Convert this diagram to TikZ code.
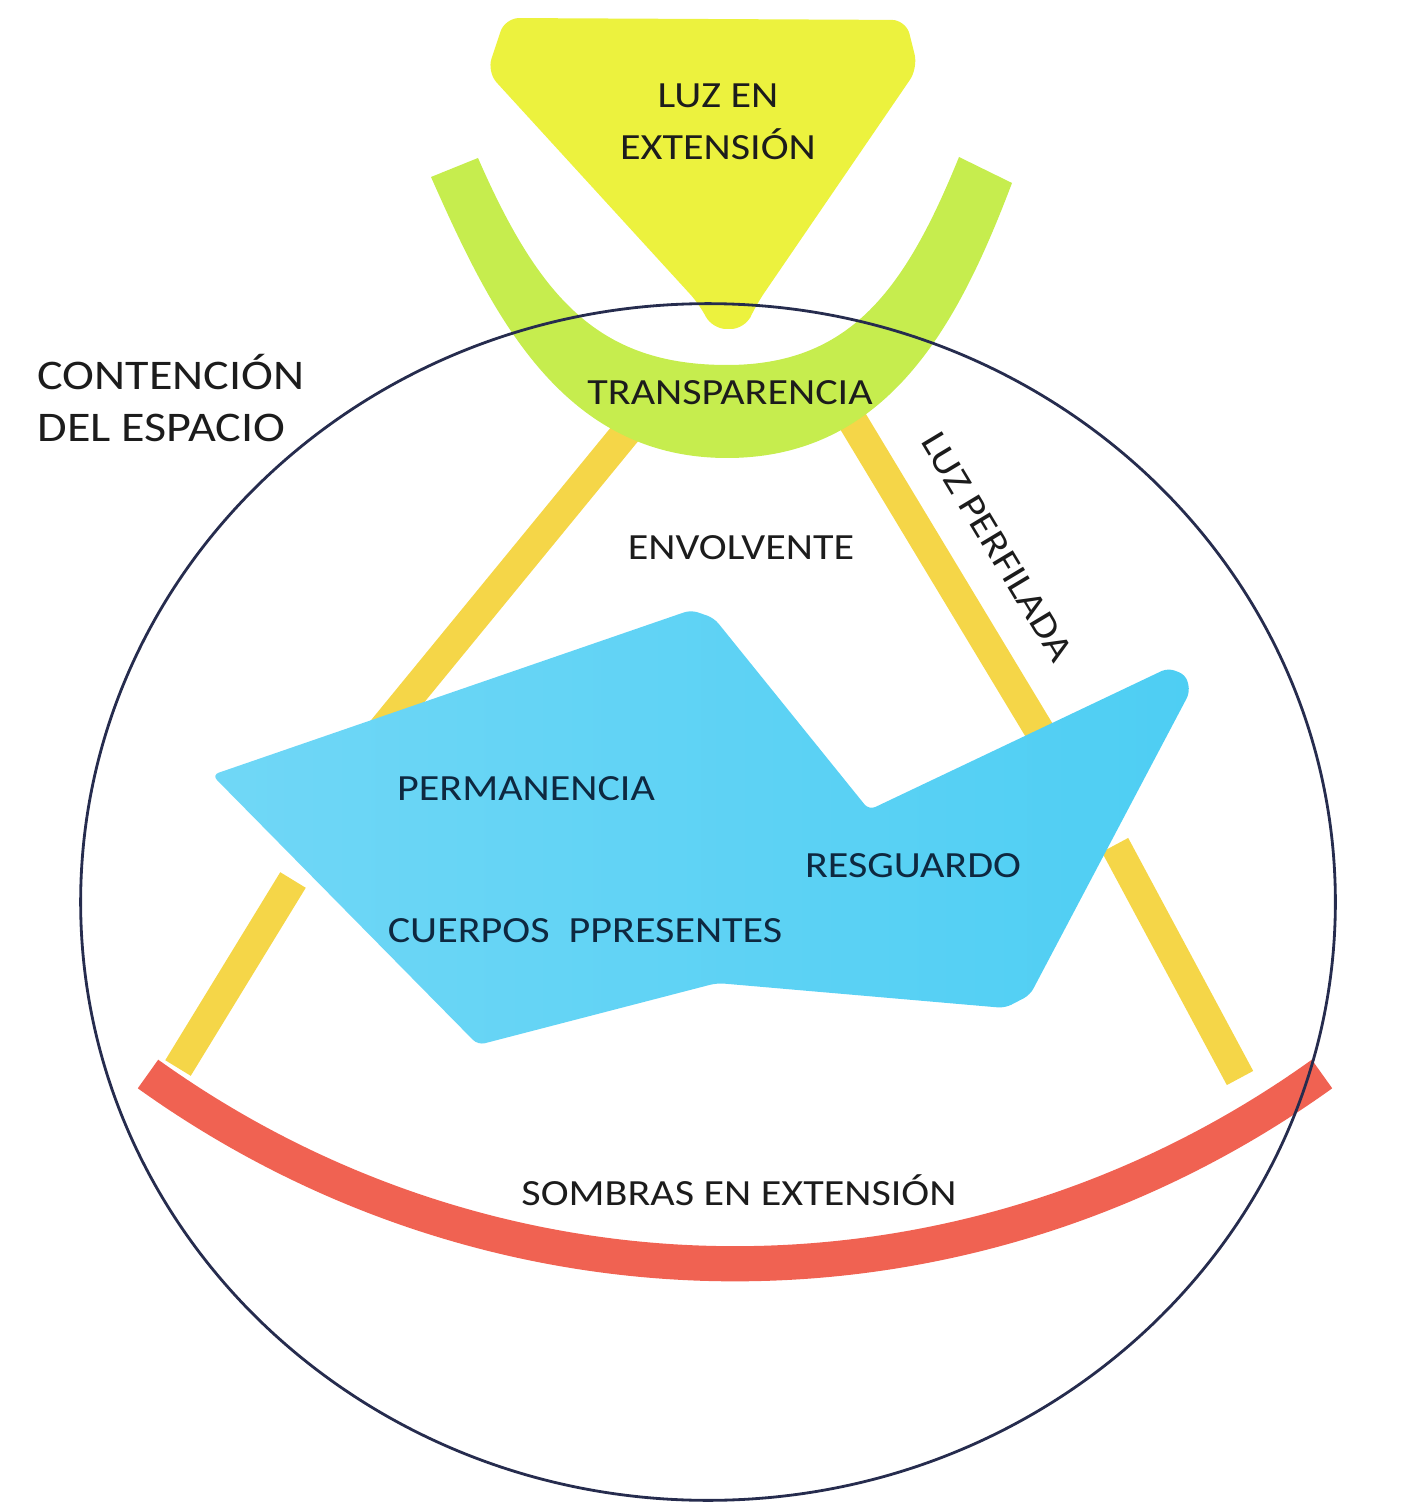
\documentclass[tikz,border=0pt]{standalone}
\usepackage{fontspec}
\setmainfont{Carlito}[FakeStretch=1.14]
\usetikzlibrary{positioning}
\definecolor{luzyel}{RGB}{236,242,62}
\definecolor{transgreen}{RGB}{198,237,78}
\definecolor{baryel}{RGB}{245,214,72}
\definecolor{bodyblue}{RGB}{78,206,243}
\definecolor{bodybluelt}{RGB}{112,215,246}
\definecolor{sombrared}{RGB}{240,98,82}
\definecolor{rimnavy}{RGB}{38,44,78}
\definecolor{inktxt}{RGB}{28,28,28}
\definecolor{inkblue}{RGB}{14,40,64}

\begin{document}
\begin{tikzpicture}[x=0.01cm, y=-0.01cm,
  bar/.style={line width=8.5pt, baryel},
  lbl/.style={font=\fontsize{10.5}{12}\selectfont, text=inktxt, inner sep=0pt},
  bluelbl/.style={lbl, text=inkblue}]
\useasboundingbox (0,0) rectangle (1415,1504);

% Luz en extension (funnel)
\fill[luzyel, rounded corners=4pt] (505,18) -- (906,20) -- (918,68) -- (756,305) -- (745,329) -- (712,329) -- (700,305) -- (487,72) -- cycle;

% Luz perfilada (bars)
\draw[bar] (628,430) -- (370,745);
\draw[bar] (293,880) -- (178,1068);
\draw[bar] (843,405) -- (1045,740);
\draw[bar] (1115,845) -- (1240,1078);

% Transparencia (green U)
\fill[transgreen] (431,177) .. controls (490,310) and (560,458) .. (727,458)
  .. controls (890,458) and (960,320) .. (1012,183) -- (959,157)
  .. controls (905,290) and (850,365) .. (727,365)
  .. controls (600,365) and (540,300) .. (478,158) -- cycle;

% Cuerpos presentes (blue body)
\shade[left color=bodybluelt, right color=bodyblue, rounded corners=2pt]
  (212,775) -- (691,610) -- (714,618) -- (869,810) -- (1168,668) -- (1186,675)
  -- (1190,692) -- (1030,995) -- (1005,1008) -- (717,983) -- (478,1045) -- cycle;

% Sombras en extension (red band)
\draw[line width=10pt, sombrared] (148,1074) .. controls (501,1327) and (969,1327) .. (1322,1074);

% Space container
\draw[rimnavy, line width=0.8pt] (708,902) ellipse [x radius=6.27cm, y radius=5.98cm];

% Labels
\node[lbl, anchor=base] (luzA) at (718,108) {LUZ EN};
\node[lbl, anchor=base] (luzB) at (718,160) {EXTENSIÓN};
\node[lbl, anchor=base] (transp) at (730,405) {TRANSPARENCIA};
\node[lbl, font=\fontsize{12}{14}\selectfont, anchor=base west] (contA) at (37,390) {CONTENCIÓN};
\node[lbl, font=\fontsize{12}{14}\selectfont, anchor=base west] (contB) at (37,442) {DEL ESPACIO};
\node[lbl, anchor=base] (envol) at (741,560) {ENVOLVENTE};
\node[lbl, rotate=-59] (perfil) at (997,547) {LUZ PERFILADA};
\node[bluelbl, anchor=base] (perma) at (526,800) {PERMANENCIA};
\node[bluelbl, anchor=base] (resg) at (913,877) {RESGUARDO};
\node[bluelbl, anchor=base] (cuerp) at (585,942) {CUERPOS\ \ PPRESENTES};
\node[lbl, anchor=base] (sombra) at (739,1205) {SOMBRAS EN EXTENSIÓN};

\end{tikzpicture}
\end{document}
